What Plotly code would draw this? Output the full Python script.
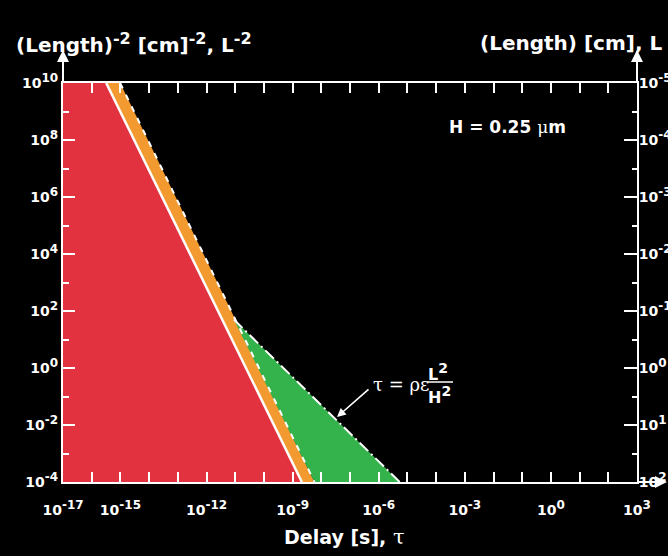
import plotly.graph_objects as go

# ---- data ----
L_inv2_edges = [1e10, 1e-4]                 # y-range of the light-speed lines
tau_light_solid = [3.2e-16, 2.1e-9]         # solid white line (red region edge)
tau_light_dashed = [9.8e-16, 5.8e-9]        # dashed white line (orange band edge)
tau_rc = [9.0e-12, 5.4e-6]                  # dash-dot RC line
L_inv2_rc = [50.0, 1e-4]
x_left = 1e-17

x_exps = [-17, -15, -12, -9, -6, -3, 0, 3]
x_minor_exps = list(range(-17, 4))
y_exps = [-4, -2, 0, 2, 4, 6, 8, 10]
y_minor_exps = list(range(-3, 10, 2))
y2_exps = [-5, -4, -3, -2, -1, 0, 1, 2]
y2_minor_exps = [-4.5, -3.5, -2.5, -1.5, -0.5, 0.5, 1.5]

RED = "#E2313F"
ORANGE = "#F29A30"
GREEN = "#34B24B"
WHITE = "white"
SANS = "DejaVu Sans"


def sup(s, size):
    return "<sup><span style='font-size:%dpx'>%s</span></sup>" % (size, s)


def power_label(e):
    return "10" + sup(str(e), 12)


x_tickvals = [10.0 ** e for e in x_exps]
x_ticktext = [power_label(e) for e in x_exps]
x_minor = [10.0 ** e for e in x_minor_exps]
y_tickvals = [10.0 ** e for e in y_exps]
y_ticktext = [power_label(e) for e in y_exps]
y_minor = [10.0 ** e for e in y_minor_exps]
y2_tickvals = [10.0 ** e for e in y2_exps]
y2_ticktext = [power_label(e) for e in y2_exps]
y2_minor = [10.0 ** e for e in y2_minor_exps]

fig = go.Figure()

# red region
fig.add_trace(go.Scatter(
    x=[x_left, tau_light_solid[0], tau_light_solid[1], x_left],
    y=[L_inv2_edges[0], L_inv2_edges[0], L_inv2_edges[1], L_inv2_edges[1]],
    fill="toself", fillcolor=RED, mode="lines", line=dict(width=0), hoverinfo="skip"))
# orange band
fig.add_trace(go.Scatter(
    x=[tau_light_solid[0], tau_light_dashed[0], tau_light_dashed[1], tau_light_solid[1]],
    y=[L_inv2_edges[0], L_inv2_edges[0], L_inv2_edges[1], L_inv2_edges[1]],
    fill="toself", fillcolor=ORANGE, mode="lines", line=dict(width=0), hoverinfo="skip"))
# green region
fig.add_trace(go.Scatter(
    x=[tau_rc[0], tau_rc[1], tau_light_dashed[1]],
    y=[L_inv2_rc[0], L_inv2_rc[1], L_inv2_edges[1]],
    fill="toself", fillcolor=GREEN, mode="lines", line=dict(width=0), hoverinfo="skip"))
# boundary lines
fig.add_trace(go.Scatter(x=tau_light_solid, y=L_inv2_edges, mode="lines",
                         line=dict(color=WHITE, width=2.5), hoverinfo="skip"))
fig.add_trace(go.Scatter(x=tau_light_dashed, y=L_inv2_edges, mode="lines",
                         line=dict(color=WHITE, width=2, dash="6px,7px"), hoverinfo="skip"))
fig.add_trace(go.Scatter(x=tau_rc, y=L_inv2_rc, mode="lines",
                         line=dict(color=WHITE, width=2, dash="12px,4px,2px,4px"), hoverinfo="skip"))
# invisible trace that activates the right-hand L axis
fig.add_trace(go.Scatter(x=[x_left] * len(y2_tickvals), y=y2_tickvals, yaxis="y2",
                         mode="markers", marker=dict(opacity=0), hoverinfo="skip"))

tickfont = dict(family=SANS, size=14, color=WHITE, weight="bold")

fig.update_layout(
    width=668, height=556,
    margin=dict(l=63, r=31, t=83, b=74, autoexpand=False),
    paper_bgcolor="black", plot_bgcolor="black",
    showlegend=False,
    xaxis=dict(type="log", range=[-17, 3], showgrid=False, zeroline=False, automargin=False,
               showline=True, linecolor=WHITE, linewidth=2, mirror="allticks",
               ticks="inside", ticklen=10, tickwidth=2, tickcolor=WHITE,
               tickmode="array", tickvals=x_tickvals, ticktext=x_ticktext,
               tickfont=tickfont, ticklabelstandoff=14,
               minor=dict(tickmode="array", tickvals=x_minor, ticks="inside",
                          ticklen=4, tickwidth=2, tickcolor=WHITE, showgrid=False)),
    yaxis=dict(type="log", range=[-4, 10], showgrid=False, zeroline=False, automargin=False,
               showline=True, linecolor=WHITE, linewidth=2, mirror=False,
               ticks="inside", ticklen=12, tickwidth=2, tickcolor=WHITE,
               tickmode="array", tickvals=y_tickvals, ticktext=y_ticktext,
               tickfont=tickfont,
               minor=dict(tickmode="array", tickvals=y_minor, ticks="inside",
                          ticklen=6, tickwidth=2, tickcolor=WHITE, showgrid=False)),
    yaxis2=dict(type="log", range=[2, -5], overlaying="y", side="right", automargin=False,
                showgrid=False, zeroline=False,
                showline=True, linecolor=WHITE, linewidth=2,
                ticks="inside", ticklen=13, tickwidth=2, tickcolor=WHITE,
                tickmode="array", tickvals=y2_tickvals, ticktext=y2_ticktext,
                tickfont=tickfont, ticklabelstandoff=-3,
                minor=dict(tickmode="array", tickvals=y2_minor, ticks="inside",
                           ticklen=5, tickwidth=2, tickcolor=WHITE, showgrid=False)),
)

W, H = 574.0, 399.0


def px(x):
    return (x - 63) / W


def py(y):
    return (482 - y) / H


annos = []
# axis arrows
arrow = dict(xref="paper", yref="paper", text="", showarrow=True, arrowhead=2,
             arrowsize=1.2, arrowwidth=2, arrowcolor=WHITE)
annos.append(dict(arrow, x=0, y=py(50), ax=0, ay=33))
annos.append(dict(arrow, x=1, y=py(50), ax=0, ay=33))
annos.append(dict(arrow, x=px(667), y=0, ax=-31, ay=0))
# titles
title_font = dict(family=SANS, size=20, color=WHITE, weight="bold")
annos.append(dict(x=px(14), y=py(43), xref="paper", yref="paper", xanchor="left", yanchor="middle",
                  text="(Length)" + sup("-2", 16) + " [cm]" + sup("-2", 16) + ", L" + sup("-2", 16),
                  showarrow=False, font=title_font))
annos.append(dict(x=px(664), y=py(43), xref="paper", yref="paper", xanchor="right", yanchor="middle",
                  text="(Length) [cm], L", showarrow=False, font=title_font))
annos.append(dict(x=px(344), y=py(537), xref="paper", yref="paper", xanchor="center", yanchor="middle",
                  text="Delay [s], <span style=\"font-family:'DejaVu Serif';font-weight:normal;font-size:21px\">τ</span>",
                  showarrow=False,
                  font=dict(family=SANS, size=19, color=WHITE, weight="bold")))
annos.append(dict(x=px(507), y=py(127), xref="paper", yref="paper", xanchor="center", yanchor="middle",
                  text="H = 0.25 <span style=\"font-family:'DejaVu Serif';font-weight:normal\">μ</span>m",
                  showarrow=False,
                  font=dict(family=SANS, size=17, color=WHITE, weight="bold")))
# formula
annos.append(dict(x=px(371), y=py(384), xref="paper", yref="paper", xanchor="left", yanchor="middle",
                  text="τ = ρε", showarrow=False,
                  font=dict(family="DejaVu Serif", size=18, color=WHITE)))
annos.append(dict(x=px(426), y=py(372), xref="paper", yref="paper", xanchor="left", yanchor="middle",
                  text="L" + sup("2", 14), showarrow=False,
                  font=dict(family=SANS, size=16, color=WHITE, weight="bold")))
annos.append(dict(x=px(426), y=py(395), xref="paper", yref="paper", xanchor="left", yanchor="middle",
                  text="H" + sup("2", 14), showarrow=False,
                  font=dict(family=SANS, size=16, color=WHITE, weight="bold")))
annos.append(dict(x=px(337), y=py(417), xref="paper", yref="paper", ax=33, ay=-29, text="",
                  showarrow=True, arrowhead=2, arrowsize=1.1, arrowwidth=1.6, arrowcolor=WHITE))
fig.update_layout(annotations=annos)

fig.add_shape(type="line", xref="paper", yref="paper",
              x0=px(427), x1=px(453), y0=py(382), y1=py(382),
              line=dict(color=WHITE, width=1.5))

fig.write_html("out.html")
